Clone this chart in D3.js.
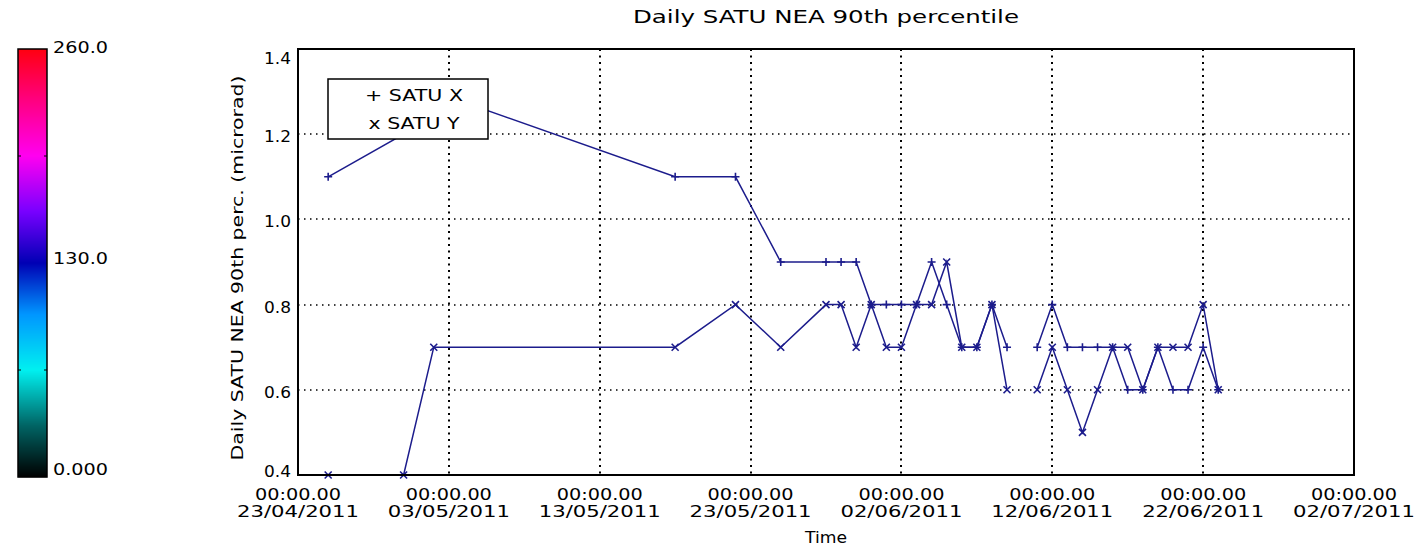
<!DOCTYPE html>
<html><head><meta charset="utf-8">
<script src="https://cdn.jsdelivr.net/npm/d3@7"></script>
<style>
html,body{margin:0;padding:0;background:#fff;}
svg{display:block;}
text{font-family:"DejaVu Sans",sans-serif;fill:#000;}
</style>
</head><body>
<svg id="c" width="1425" height="555"></svg>
<script>
// ---- data ----
const chartTitle = "Daily SATU NEA 90th percentile";
const yAxisTitle = "Daily SATU NEA 90th perc. (microrad)";
const xAxisTitle = "Time";
const seriesNames = ["SATU X", "SATU Y"];
const seriesSymbols = ["+", "x"];
const dates = ["2011-04-25","2011-04-30","2011-05-02","2011-05-18","2011-05-22","2011-05-25",
  "2011-05-28","2011-05-29","2011-05-30","2011-05-31","2011-06-01","2011-06-02","2011-06-03",
  "2011-06-04","2011-06-05","2011-06-06","2011-06-07","2011-06-08","2011-06-09","2011-06-10",
  "2011-06-11","2011-06-12","2011-06-13","2011-06-14","2011-06-15","2011-06-16","2011-06-17",
  "2011-06-18","2011-06-19","2011-06-20","2011-06-21","2011-06-22","2011-06-23"];
const satuX = [1.1,1.2,1.3,1.1,1.1,0.9,0.9,0.9,0.9,0.8,0.8,0.8,0.8,0.9,0.8,0.7,0.7,0.8,0.7,null,
  0.7,0.8,0.7,0.7,0.7,0.7,0.6,0.6,0.7,0.6,0.6,0.7,0.6];
const satuY = [0.4,0.4,0.7,0.7,0.8,0.7,0.8,0.8,0.7,0.8,0.7,0.7,0.8,0.8,0.9,0.7,0.7,0.8,0.6,null,
  0.6,0.7,0.6,0.5,0.6,0.7,0.7,0.6,0.7,0.7,0.7,0.8,0.6];
const yTicks = [0.4,0.6,0.8,1.0,1.2,1.4];
const yTickLabels = ["0.4","0.6","0.8","1.0","1.2","1.4"];
const xTickDates = ["2011-04-23","2011-05-03","2011-05-13","2011-05-23","2011-06-02","2011-06-12","2011-06-22","2011-07-02"];
const xTickTimeLabel = "00:00.00";
const colorbarValues = [0,130,260];
const colorbarLabels = ["0.000","130.0","260.0"];
const colorbarStops = [0,0.12,0.25,0.38,0.5,0.62,0.75,0.88,1];
const colorbarColors = ["#000000","#006464","#00f0f0","#0096ff","#0000b4","#7800ff","#ff00f0","#ff0080","#ff0010"];

// ---- layout ----
const svg = d3.select("#c");
const M = {left:298, right:1354, top:49, bottom:475};
const lineColor = "#1c1c8c";
const parse = d3.utcParse("%Y-%m-%d");
const fmt = d3.utcFormat("%d/%m/%Y");
const FS = 16;

const x = d3.scaleUtc().domain([parse(xTickDates[0]), parse(xTickDates[xTickDates.length-1])]).range([M.left, M.right]);
const y = d3.scaleLinear().domain([yTicks[0], yTicks[yTicks.length-1]]).range([M.bottom, M.top]);

function fit(sel, w){ return sel.attr("textLength", w).attr("lengthAdjust","spacingAndGlyphs"); }

// colour bar
const cb = {x:18, w:29, top:49, bottom:477};
const cbScale = d3.scaleLinear().domain([0,260]).range([cb.bottom, cb.top]);
const cbColor = d3.scaleLinear().domain(colorbarStops.map(s=>s*260)).range(colorbarColors);
const cbRows = d3.range(cb.top, cb.bottom, 1);
svg.append("g").selectAll("rect").data(cbRows).join("rect")
  .attr("x", cb.x).attr("width", cb.w).attr("y", d=>d).attr("height", 1.2)
  .attr("fill", d=>cbColor(cbScale.invert(d+0.5)));
svg.append("rect").attr("x",cb.x).attr("y",cb.top).attr("width",cb.w).attr("height",cb.bottom-cb.top)
  .attr("fill","none").attr("stroke","#000").attr("stroke-width",1.5);
[65,195].forEach(v=>{
  const yy = cbScale(v);
  svg.append("line").attr("x1",cb.x).attr("x2",cb.x+3).attr("y1",yy).attr("y2",yy).attr("stroke","#000");
  svg.append("line").attr("x1",cb.x+cb.w-3).attr("x2",cb.x+cb.w).attr("y1",yy).attr("y2",yy).attr("stroke","#000");
});
fit(svg.append("g").selectAll("text").data(colorbarValues).join("text")
  .attr("x", 53)
  .attr("y", d=>Math.max(47, Math.min(469, cbScale(d)-5)) + 6)
  .attr("font-size", FS)
  .text((d,i)=>colorbarLabels[i]), 55);

// grid lines
const grid = svg.append("g").attr("stroke","#000").attr("fill","none");
xTickDates.slice(1,-1).forEach(s=>{
  const xx = Math.round(x(parse(s)));
  grid.append("line").attr("x1",xx).attr("x2",xx).attr("y1",M.top).attr("y2",M.bottom)
    .attr("stroke-width",2).attr("stroke-dasharray","2,4.5");
});
yTicks.slice(1,-1).forEach(v=>{
  const yy = Math.round(y(v));
  grid.append("line").attr("x1",M.left).attr("x2",M.right).attr("y1",yy).attr("y2",yy)
    .attr("stroke-width",1.5).attr("stroke-dasharray","1.5,4.5");
});

// series
const series = [satuX, satuY].map((vals,i)=>({
  name: seriesNames[i],
  pts: dates.map((d,j)=>({t:parse(d), v:vals[j]}))
}));
const line = d3.line().defined(d=>d.v!=null).x(d=>x(d.t)).y(d=>y(d.v));
const plot = svg.append("g");
series.forEach((s,i)=>{
  plot.append("path").attr("d", line(s.pts)).attr("fill","none")
    .attr("stroke", lineColor).attr("stroke-width",1.5);
});
const plusPath = "M-4,0H4M0,-4V4";
const crossPath = "M-3.5,-3.5L3.5,3.5M-3.5,3.5L3.5,-3.5";
series.forEach((s,i)=>{
  plot.append("g").selectAll("path").data(s.pts.filter(d=>d.v!=null)).join("path")
    .attr("transform", d=>`translate(${x(d.t)},${y(d.v)})`)
    .attr("d", i===0 ? plusPath : crossPath)
    .attr("stroke", lineColor).attr("stroke-width",1.6).attr("fill","none");
});

// frame
svg.append("rect").attr("x",M.left).attr("y",M.top).attr("width",M.right-M.left).attr("height",M.bottom-M.top)
  .attr("fill","none").attr("stroke","#000").attr("stroke-width",2);

// y tick labels
fit(svg.append("g").selectAll("text").data(yTicks).join("text")
  .attr("x", 291).attr("text-anchor","end")
  .attr("y", d=>Math.max(M.top+9, Math.min(M.bottom-4, y(d)+2)) + 6)
  .attr("font-size",FS)
  .text((d,i)=>yTickLabels[i]), 27);

// x tick labels
const xl = svg.append("g").selectAll("g").data(xTickDates).join("g")
  .attr("transform", d=>`translate(${x(parse(d))},0)`);
fit(xl.append("text").attr("x",0).attr("y",500).attr("text-anchor","middle")
  .attr("font-size",FS).text(xTickTimeLabel), 86);
fit(xl.append("text").attr("x",0).attr("y",517).attr("text-anchor","middle")
  .attr("font-size",FS).text(d=>fmt(parse(d))), 122);

// axis titles
fit(svg.append("text").attr("x",(M.left+M.right)/2).attr("y",543).attr("text-anchor","middle")
  .attr("font-size",FS).text(xAxisTitle), 42);
fit(svg.append("text").attr("transform","translate(243,268) rotate(-90)").attr("text-anchor","middle")
  .attr("font-size",FS).text(yAxisTitle), 385);
fit(svg.append("text").attr("x",(M.left+M.right)/2).attr("y",23).attr("text-anchor","middle")
  .attr("font-size",17).text(chartTitle), 386);

// legend
const lg = svg.append("g");
lg.append("rect").attr("x",328).attr("y",79).attr("width",160).attr("height",60)
  .attr("fill","#fff").attr("stroke","#000").attr("stroke-width",1.5);
lg.selectAll("text").data(seriesNames).join("text")
  .attr("x",414).attr("y",(d,i)=>101+i*28).attr("text-anchor","middle")
  .attr("font-size",FS).attr("lengthAdjust","spacingAndGlyphs")
  .attr("textLength",(d,i)=>i===0?98:91)
  .text((d,i)=>seriesSymbols[i]+" "+d);
</script>
</body></html>
